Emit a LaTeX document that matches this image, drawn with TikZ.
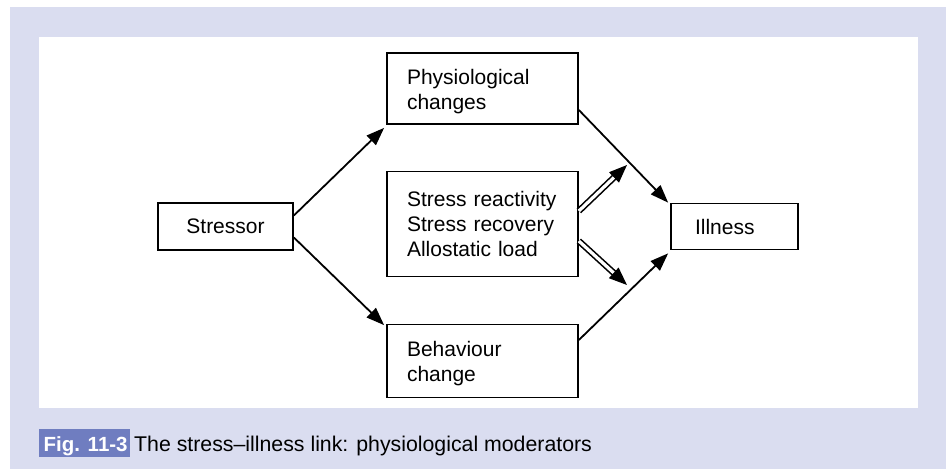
\documentclass[tikz,border=0pt]{standalone}
\usepackage{fontspec}
\setmainfont{Liberation Sans}
\usetikzlibrary{arrows.meta,calc}
\definecolor{lav}{RGB}{218,221,240}
\definecolor{hl}{RGB}{111,125,192}
\begin{document}
\begin{tikzpicture}[x=1pt,y=-1pt,
  box/.style={draw, line width=1.7pt, fill=white, inner sep=0pt, font=\fontsize{21}{25}\selectfont},
  lowered/.style={text height=21pt},
  arr/.style={line width=1.8pt, -{Triangle[length=18pt,width=13pt]}},
  dbl/.style={line width=1.6pt, double, double distance=3.2pt, -{Triangle[length=18pt,width=14pt]}},
  captext/.style={inner sep=0pt, anchor=base west, font=\fontsize{21.3}{25}\selectfont}]
\useasboundingbox (0,0) rectangle (946,469);
\fill[white] (0,0) rectangle (946,469);
\fill[lav] (10,7) rectangle (946,469);
\fill[white] (39,37) rectangle (918,408);
% boxes
\node[box, minimum width=135pt, minimum height=47pt, align=center] (stressor) at (225.5,226.5) {Stressor};
\node[box, lowered, minimum width=191pt, minimum height=71pt, text width=151pt, align=left] (phys) at (482.5,88.5) {Physiological\\changes};
\node[box, minimum width=191pt, minimum height=105pt, text width=151pt, align=left] (mid) at (482.5,224) {Stress reactivity\\Stress recovery\\Allostatic load};
\node[box, lowered, minimum width=191pt, minimum height=73pt, text width=151pt, align=left] (beh) at (482.5,361) {Behaviour\\change};
\node[box, minimum width=127pt, minimum height=46pt, text width=79pt, align=left] (ill) at (734.5,226.5) {Illness};
% connectors
\draw[arr] ($(stressor.east)+(0,-11)$) -- ($(phys.south west)+(-2,3)$);
\draw[arr] ($(stressor.east)+(0,11)$) -- ($(beh.north west)+(-2,1.5)$);
\draw[arr] ($(phys.east)+(0,21.5)$) -- ($(ill.north west)+(-2,0)$);
\draw[arr] ($(beh.east)+(0,-21)$) -- ($(ill.south west)+(-2,3)$);
\coordinate (up) at (627,165);
\coordinate (dn) at (627,285);
\draw[dbl] ($(mid.east)+(0,-13)$) -- (up);
\draw[dbl] ($(mid.east)+(0,17)$) -- (dn);
% caption
\fill[hl] (39,429) rectangle (130,457);
\node[captext, text=white, font=\fontsize{20.5}{24}\selectfont\bfseries] (fig) at (43.5,451) {Fig. 11-3};
\node[captext] (captxt) at (134,451) {The stress--illness link: physiological moderators};
\end{tikzpicture}
\end{document}
